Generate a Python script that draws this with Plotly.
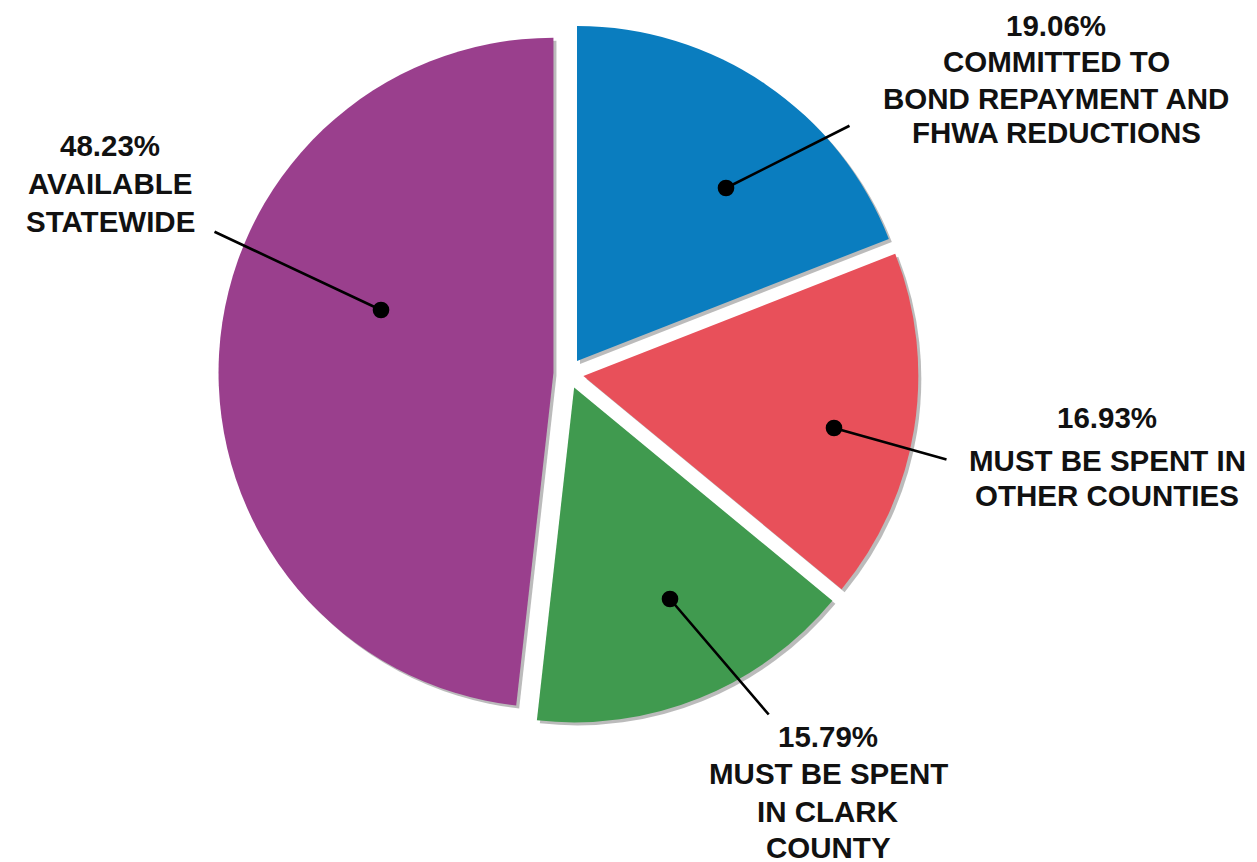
import plotly.graph_objects as go

# ---- data ----
categories = [
    "COMMITTED TO BOND REPAYMENT AND FHWA REDUCTIONS",
    "MUST BE SPENT IN OTHER COUNTIES",
    "MUST BE SPENT IN CLARK COUNTY",
    "AVAILABLE STATEWIDE",
]
values = [19.06, 16.93, 15.79, 48.23]
label_lines = [
    ["COMMITTED TO", "BOND REPAYMENT AND", "FHWA REDUCTIONS"],
    ["MUST BE SPENT IN", "OTHER COUNTIES"],
    ["MUST BE SPENT", "IN CLARK", "COUNTY"],
    ["AVAILABLE", "STATEWIDE"],
]
colors = ["#0A7DBF", "#E8505A", "#409A4F", "#9A3F8D"]

W, H = 1257, 862

# ---- layout / style ----
cx, cy, half = 560.5, 365.5, 350  # pie centre and half-size in px
SHADOW = 3  # drop-shadow offset in px


def domain(ox=0.0, oy=0.0):
    return dict(
        x=[(cx + ox - half) / W, (cx + ox + half) / W],
        y=[1 - (cy + oy + half) / H, 1 - (cy + oy - half) / H],
    )


pie_common = dict(
    labels=categories,
    values=values,
    sort=False,
    direction="clockwise",
    rotation=0,
    pull=[0.045] * len(values),
    textinfo="none",
    showlegend=False,
)

fig = go.Figure()
# soft drop shadow behind the slices
fig.add_trace(go.Pie(
    **pie_common,
    marker=dict(colors=["rgba(60,60,60,0.35)"] * len(values), line=dict(width=0)),
    hoverinfo="skip",
    domain=domain(SHADOW, SHADOW),
))
fig.add_trace(go.Pie(
    **pie_common,
    marker=dict(colors=colors, line=dict(width=0)),
    hoverinfo="label+percent",
    domain=domain(),
))

# label text centre x (px) and cap-centre y of each line (px)
label_x = [1048, 1099, 820, 102]
label_ys = [
    [25, 61, 97, 132],
    [416, 459, 494],
    [735, 772, 810, 846],
    [144, 182, 221],
]
dots = [(718, 180), (826, 420), (662, 591), (373, 302)]
tails = [(125, -63), (114, 32), (100, 117), (-168, -79)]

FONT = dict(family="Liberation Sans, Arial, sans-serif", size=29.5,
            color="#111111", weight="bold")
Y_SHIFT = -7  # cap centre vs. annotation middle correction (px)

annotations = []
for v, lines, lx, ys, (dx, dy), (tx, ty) in zip(values, label_lines, label_x, label_ys, dots, tails):
    all_lines = [f"{v:.2f}%"] + lines
    for txt, ly in zip(all_lines, ys):
        annotations.append(dict(
            x=lx / W, y=1 - (ly + Y_SHIFT) / H, xref="paper", yref="paper",
            text=txt, showarrow=False, align="center",
            xanchor="center", yanchor="middle", font=FONT,
        ))
    annotations.append(dict(
        x=dx / W, y=1 - dy / H, xref="paper", yref="paper",
        ax=tx, ay=ty, text="", showarrow=True,
        arrowhead=6, arrowsize=1.6, arrowwidth=2.6, arrowcolor="#000000",
    ))

fig.update_layout(
    width=W, height=H,
    margin=dict(l=0, r=0, t=0, b=0),
    paper_bgcolor="white", plot_bgcolor="white",
    annotations=annotations,
)

fig.write_html("out.html")
